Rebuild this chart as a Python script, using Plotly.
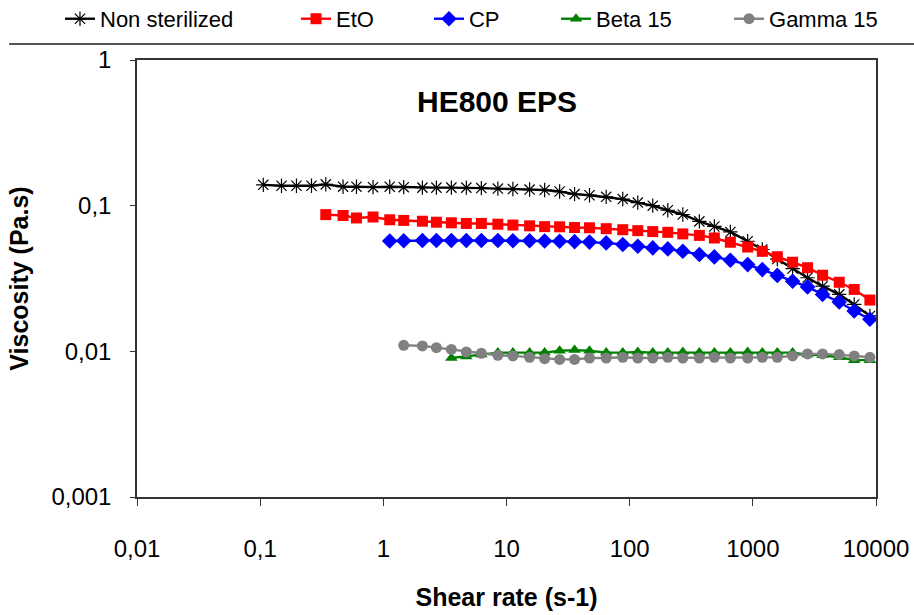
import plotly.graph_objects as go

# Shear-rate sweep grid (s-1), shared by all samples
shear_rate = [
    0.106, 0.149, 0.197, 0.261, 0.341, 0.471, 0.605, 0.825, 1.127, 1.464,
    2.076, 2.697, 3.567, 4.72, 6.25, 8.51, 11.27, 15.4, 20.4, 27.0,
    35.7, 47.2, 64.5, 87.9, 116.4, 154, 204, 270, 368, 487,
    657, 908, 1194, 1580, 2103, 2782, 3683, 5029, 6654, 8921,
]

# Viscosity (Pa.s); each series ends at the last shear rate of the sweep
visc_non_sterilized = [
    0.139, 0.137, 0.137, 0.137, 0.140, 0.135, 0.135, 0.134, 0.135, 0.134,
    0.133, 0.133, 0.133, 0.133, 0.132, 0.131, 0.130, 0.129, 0.128, 0.125,
    0.120, 0.118, 0.115, 0.111, 0.105, 0.100, 0.093, 0.087, 0.078, 0.072,
    0.066, 0.057, 0.050, 0.043, 0.037, 0.032, 0.028, 0.0246, 0.021, 0.0175,
]
visc_eto = [
    0.0868, 0.0856, 0.0823, 0.0836, 0.0800, 0.0792, 0.0782, 0.0770, 0.0763, 0.0755,
    0.0755, 0.0746, 0.0736, 0.0727, 0.0718, 0.0716, 0.0708, 0.0705, 0.0695, 0.0684,
    0.0674, 0.0664, 0.0656, 0.0640, 0.0625, 0.0600, 0.0561, 0.0520, 0.0486, 0.0446,
    0.0409, 0.0375, 0.0333, 0.0298, 0.0266, 0.0225,
]
visc_cp = [
    0.0572, 0.0575, 0.0576, 0.0577, 0.0577, 0.0577, 0.0577, 0.0576, 0.0575, 0.0574,
    0.0572, 0.0570, 0.0566, 0.0562, 0.0555, 0.0541, 0.0526, 0.0513, 0.0505, 0.0486,
    0.0462, 0.0445, 0.0422, 0.0394, 0.0364, 0.0332, 0.0303, 0.0277, 0.0246, 0.0218,
    0.0189, 0.0166,
]
visc_beta15 = [
    0.0090, 0.0092, 0.0095, 0.0098, 0.0098, 0.0098, 0.0098, 0.0101, 0.0102, 0.0101,
    0.0098, 0.0098, 0.0099, 0.0098, 0.0098, 0.0099, 0.0098, 0.0098, 0.0098, 0.0099,
    0.0098, 0.0098, 0.0098, 0.0095, 0.0094, 0.0091, 0.0087, 0.0087,
]
visc_gamma15 = [
    0.0110, 0.0109, 0.0106, 0.0103, 0.0099, 0.0097, 0.0094, 0.0093, 0.0091, 0.0089,
    0.0088, 0.0088, 0.0090, 0.0090, 0.0091, 0.0090, 0.0090, 0.0091, 0.0090, 0.0090,
    0.0091, 0.0090, 0.0090, 0.0091, 0.0091, 0.0093, 0.0096, 0.0096, 0.0095, 0.0093,
    0.0091,
]

series_names = ["Non sterilized", "EtO", "CP", "Beta 15", "Gamma 15"]
series_values = [visc_non_sterilized, visc_eto, visc_cp, visc_beta15, visc_gamma15]
series_colors = ["#000000", "#FF0000", "#0000FF", "#008000", "#808080"]
series_symbols = ["asterisk-open", "square", "diamond", "triangle-up", "circle"]
series_sizes = [12, 11, 12, 11, 11]

x_tick_vals = [0.01, 0.1, 1, 10, 100, 1000, 10000]
x_tick_text = ["0,01", "0,1", "1", "10", "100", "1000", "10000"]
y_tick_vals = [0.001, 0.01, 0.1, 1]
y_tick_text = ["0,001", "0,01", "0,1", "1"]

FONT = "Liberation Sans, Arial, sans-serif"

# left edge (paper x) of each legend entry
legend_x = [-0.1042, 0.2152, 0.3951, 0.5670, 0.8011]
legend_ids = ["legend", "legend2", "legend3", "legend4", "legend5"]

fig = go.Figure()
for name, vals, col, sym, size, lid in zip(series_names, series_values, series_colors,
                                         series_symbols, series_sizes, legend_ids):
    xs = shear_rate[-len(vals):]
    marker = dict(symbol=sym, size=size, color=col)
    if sym == "asterisk-open":
        marker["line"] = dict(color="#333333", width=1.2)
    fig.add_trace(go.Scatter(
        x=xs, y=vals, name=name, mode="lines+markers",
        line=dict(color=col, width=2.4),
        marker=marker, legend=lid,
    ))

legend_common = dict(orientation="h", yanchor="middle", y=1.094, xanchor="left",
                     bgcolor="rgba(0,0,0,0)", font=dict(family=FONT, size=22, color="#000"))
layout_legends = {}
for lid, lx in zip(legend_ids, legend_x):
    layout_legends[lid] = dict(legend_common, x=lx)

axis_line = "#333333"
fig.update_layout(
    width=914, height=615,
    margin=dict(l=137, r=38, t=60, b=118, autoexpand=False),
    paper_bgcolor="white", plot_bgcolor="white",
    font=dict(family=FONT, color="#000"),
    showlegend=True,
    **layout_legends,
    xaxis=dict(
        type="log", range=[-2, 4],
        tickvals=x_tick_vals, ticktext=x_tick_text,
        ticks="outside", ticklen=7, tickcolor=axis_line, tickwidth=1,
        showline=True, linecolor=axis_line, linewidth=1.5, mirror=True,
        showgrid=False, zeroline=False,
        tickfont=dict(family=FONT, size=24),
        ticklabelstandoff=22,
        title=dict(text="<b>Shear rate (s-1)</b>", font=dict(family=FONT, size=25), standoff=28),
    ),
    yaxis=dict(
        type="log", range=[-3, 0],
        tickvals=y_tick_vals, ticktext=y_tick_text,
        ticks="outside", ticklen=5, tickcolor=axis_line, tickwidth=1,
        showline=True, linecolor=axis_line, linewidth=1.5, mirror=True,
        showgrid=False, zeroline=False,
        tickfont=dict(family=FONT, size=24),
        ticklabelstandoff=14,
        title=dict(text="<b>Viscosity (Pa.s)</b>", font=dict(family=FONT, size=25), standoff=16),
    ),
    annotations=[dict(
        text="<b>HE800 EPS</b>", xref="paper", yref="paper", x=0.487, y=0.906,
        xanchor="center", yanchor="middle", showarrow=False,
        font=dict(family=FONT, size=30, color="#000"),
    )],
    shapes=[dict(
        type="line", xref="paper", yref="paper", x0=-0.173, x1=1.052,
        y0=1.0366, y1=1.0366, line=dict(color="#555555", width=2),
    )],
)

fig.write_html("out.html")
